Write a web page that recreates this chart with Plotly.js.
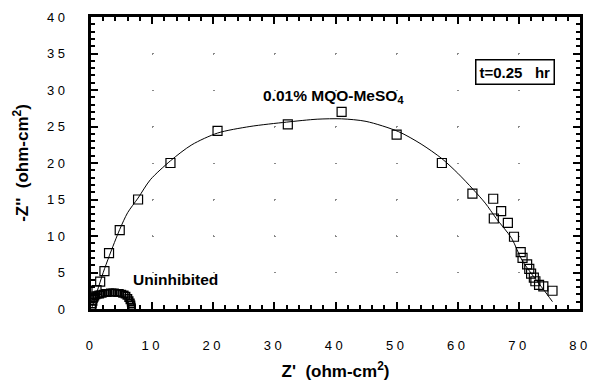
<!DOCTYPE html>
<html>
<head>
<meta charset="utf-8">
<script src="https://cdn.plot.ly/plotly-3.0.1.min.js"></script>
<style>
html, body { margin: 0; padding: 0; background: #fff; }
#chart { width: 591px; height: 386px; }
g.xtick text, g.ytick text { letter-spacing: 3.5px !important; }
</style>
</head>
<body>
<div id="chart"></div>
<script>
// MQO-MeSO4 measured points (Z', -Z'')
const mqoZre = [0.4, 0.9, 1.5, 2.2, 2.95, 4.7, 7.7, 13.0, 20.7, 32.2, 41.0, 50.0, 57.4, 62.4, 65.8, 67.1, 65.9, 68.2, 69.2, 70.3, 70.6, 71.35, 71.7, 72.0, 72.45, 72.7, 73.3, 74.0, 75.5];
const mqoZim = [1.7, 2.6, 3.75, 5.2, 7.65, 10.8, 15.0, 20.0, 24.4, 25.3, 27.0, 23.9, 20.0, 15.8, 15.1, 13.4, 12.4, 11.8, 9.9, 7.8, 7.0, 6.1, 5.5, 4.85, 4.3, 3.8, 3.3, 3.1, 2.5];

// fitted curve for MQO-MeSO4
const fitZre = [0.2, 1, 2, 3, 4.7, 6, 7.7, 9.7, 13, 16.5, 20.7, 26, 32, 37, 41, 45, 50.3, 54, 57.4, 60, 62.5, 64.5, 66.3, 68.8, 70.5, 72.4, 74, 75.5];
const fitZim = [0.3, 2.4, 5, 7.3, 10.9, 13.2, 15.2, 17.7, 20.3, 22.5, 24.1, 25.0, 25.6, 26.0, 26.05, 25.7, 24.3, 22.6, 20.6, 18.6, 16.4, 14.5, 12.4, 9.7, 6.7, 4.45, 2.7, 1.0];

// Uninhibited points
const uninZre = [0.2, 0.3, 0.4, 0.5, 0.7, 0.9, 1.2, 1.5, 1.9, 2.3, 2.7, 3.1, 3.5, 3.9, 4.3, 4.7, 5.1, 5.5, 5.8, 6.1, 6.3, 6.5, 6.6, 6.65, 6.7];
const uninZim = [0.2, 0.6, 1.0, 1.4, 1.7, 1.9, 2.0, 2.0, 2.1, 2.2, 2.2, 2.25, 2.25, 2.25, 2.2, 2.2, 2.1, 2.0, 1.8, 1.5, 1.2, 0.9, 0.6, 0.3, 0.1];

const xTicks = [0, 10, 20, 30, 40, 50, 60, 70, 80];
const yTicks = [0, 5, 10, 15, 20, 25, 30, 35, 40];

const FONT = 'Liberation Sans, Arial, sans-serif';

const traces = [
  {
    x: fitZre, y: fitZim, type: 'scatter', mode: 'lines',
    line: { color: '#000', width: 1, shape: 'spline', smoothing: 0.8 },
    hoverinfo: 'skip'
  },
  {
    x: mqoZre, y: mqoZim, type: 'scatter', mode: 'markers',
    marker: { symbol: 'square-open', size: 9, color: '#000', line: { width: 1.2, color: '#000' } }
  },
  {
    x: uninZre, y: uninZim, type: 'scatter', mode: 'markers',
    marker: { symbol: 'square-open', size: 6.5, color: '#000', line: { width: 1.5, color: '#000' } }
  }
];

const layout = {
  width: 591, height: 386,
  margin: { l: 91, r: 11, t: 17, b: 77 },
  paper_bgcolor: '#fff', plot_bgcolor: '#fff',
  showlegend: false,
  font: { family: FONT, color: '#000', size: 13 },
  xaxis: {
    range: [0, 80], tickvals: xTicks, ticktext: xTicks.map(String),
    showline: true, linewidth: 3, linecolor: '#000', mirror: 'allticks',
    ticks: 'inside', ticklen: 7, tickwidth: 2, tickcolor: '#000',
    minor: { dtick: 2, ticks: 'inside', ticklen: 4, tickwidth: 2, tickcolor: '#000', showgrid: false },
    ticklabelstandoff: 22, ticklabeloverflow: 'allow',
    showgrid: true, gridcolor: '#888', gridwidth: 1, griddash: '1.5px,34.9px',
    zeroline: false,
    tickfont: { family: FONT, size: 13, color: '#000' },
    title: { text: "<b>Z'  (ohm-cm<sup>2</sup>)</b>", font: { family: FONT, size: 17, color: '#000' }, standoff: 14 }
  },
  yaxis: {
    range: [0, 40], tickvals: yTicks, ticktext: yTicks.map(String),
    showline: true, linewidth: 3, linecolor: '#000', mirror: 'allticks',
    ticks: 'inside', ticklen: 7, tickwidth: 2, tickcolor: '#000',
    minor: { dtick: 1, ticks: 'inside', ticklen: 4, tickwidth: 2, tickcolor: '#000', showgrid: false },
    ticklabelstandoff: 17, ticklabeloverflow: 'allow',
    showgrid: true, gridcolor: '#888', gridwidth: 1, griddash: '1.5px,59.6px',
    zeroline: false,
    tickfont: { family: FONT, size: 13, color: '#000' },
    title: { text: "<b>-Z''  (ohm-cm<sup>2</sup>)</b>", font: { family: FONT, size: 17, color: '#000' }, standoff: 14 }
  },
  annotations: [
    {
      x: 39.6, y: 29.1, xref: 'x', yref: 'y', showarrow: false,
      text: '<b>0.01% MQO-MeSO<sub>4</sub></b>',
      font: { family: FONT, size: 15.5, color: '#000' }
    },
    {
      x: 13.9, y: 4.0, xref: 'x', yref: 'y', showarrow: false,
      text: '<b>Uninhibited</b>',
      font: { family: FONT, size: 15.5, color: '#000' }
    },
    {
      x: 69.4, y: 32.4, xref: 'x', yref: 'y', showarrow: false,
      text: '<b>t=0.25&nbsp;&nbsp;&nbsp;hr</b>',
      font: { family: FONT, size: 15, color: '#000' },
      bordercolor: '#000', borderwidth: 1.5, borderpad: 3, bgcolor: '#fff'
    }
  ]
};

Plotly.newPlot('chart', traces, layout, { staticPlot: true, displayModeBar: false });
</script>
</body>
</html>
